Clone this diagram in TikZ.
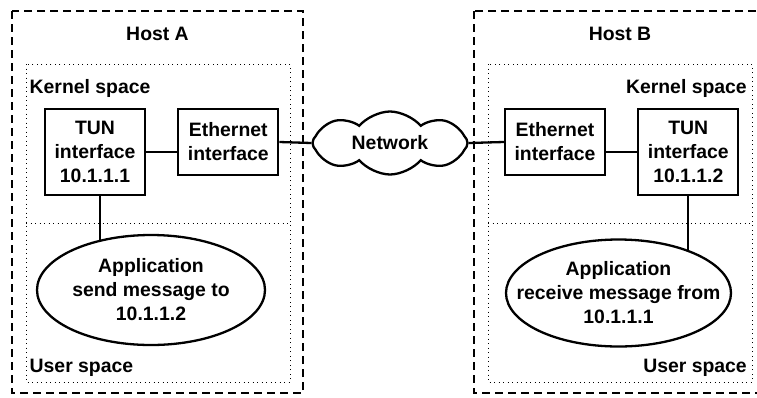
\documentclass[tikz,border=0pt]{standalone}
\usepackage{fontspec}
\setmainfont{Liberation Sans}
\usetikzlibrary{positioning,shapes,backgrounds}

\begin{document}
\begin{tikzpicture}
	[ x=1pt, y=-1pt,
		every node/.style={font=\fontsize{19.4}{24}\selectfont\bfseries},
		tunbox/.style={rectangle,draw,line width=2.3pt,minimum width=100pt,minimum height=86pt,align=center,inner sep=0pt},
		ethbox/.style={rectangle,draw,line width=2.3pt,minimum width=100pt,minimum height=66pt,align=center,inner sep=0pt},
		netcloud/.style={cloud,cloud puffs=8,cloud puff arc=100,aspect=2.4,draw,line width=2.3pt,minimum width=155pt,minimum height=63pt,inner sep=0pt},
		app/.style={ellipse,draw,fill=white,line width=2.3pt,minimum width=228pt,minimum height=110pt,align=center,inner xsep=-30pt,inner ysep=0pt},
		spacelabel/.style={inner sep=0pt},
		host/.style={line width=2.3pt,dash pattern=on 8pt off 5pt},
		space/.style={line width=1pt,dash pattern=on 1pt off 3.5pt},
		link/.style={line width=2.3pt}]

	\clip (0,0) rectangle (757,397);

	% hosts and their kernel / user spaces
	\draw[host] (12,11) rectangle (303,393);
	\draw[host] (474,11) rectangle (766,393);
	\draw[space] (26,64) rectangle (290,382);
	\draw[space] (26,223) -- (290,223);
	\draw[space] (488,64) rectangle (752,382);
	\draw[space] (488,223) -- (752,223);

	\node[spacelabel,anchor=base] (hostA) at (157.5,40.5) {Host A};
	\node[spacelabel,anchor=base] (hostB) at (620,40.5) {Host B};
	\node[spacelabel,anchor=base west] (kernelA) at (29.5,93) {Kernel space};
	\node[spacelabel,anchor=base west] (userA) at (29.5,372) {User space};
	\node[spacelabel,anchor=base east] (kernelB) at (747,93) {Kernel space};
	\node[spacelabel,anchor=base east] (userB) at (747,372) {User space};

	% interfaces
	\node[tunbox] (tunA) at (95,152) {TUN\\interface\\10.1.1.1};
	\node[ethbox] (ethA) [below right=0pt and 31pt of tunA.north east] {Ethernet\\interface};
	\node[netcloud] (network) at (390,143) {Network};
	\node[ethbox] (ethB) at (555,142) {Ethernet\\interface};
	\node[tunbox] (tunB) [below right=0pt and 31pt of ethB.north east] {TUN\\interface\\10.1.1.2};

	% applications
	\node[app] (appA) at (151,290) {Application\\send message to\\10.1.1.2};
	\node[app,minimum width=225pt,minimum height=107pt] (appB) at (618.5,293) {Application\\receive message from\\10.1.1.1};

	\draw[link] (tunA.east) -- (tunA.east -| ethA.west);
	\draw[link] (ethA.east) -- (network.west);
	\draw[link] (network.east) -- (ethB.west);
	\draw[link] (tunB.west) -- (tunB.west -| ethB.east);
	\begin{scope}[on background layer]
		\draw[link] ([xshift=5pt]tunA.south) -- ([xshift=5pt]tunA.south |- appA.center);
		\draw[link] (tunB.south) -- (tunB.south |- appB.center);
	\end{scope}
\end{tikzpicture}
\end{document}
